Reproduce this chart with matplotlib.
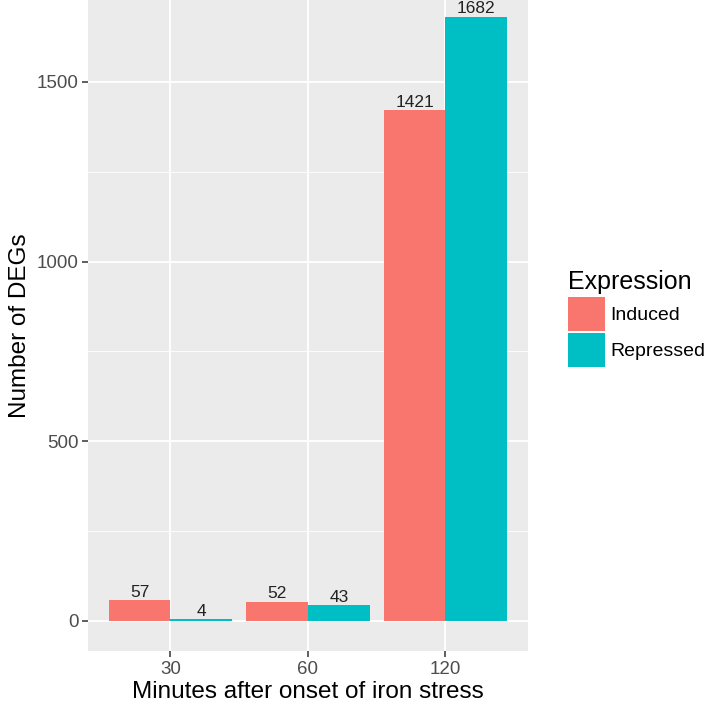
import matplotlib.pyplot as plt
import numpy as np
from matplotlib.patches import Patch

plt.rcParams['font.family'] = ['Liberation Sans', 'DejaVu Sans']

# data
minutes = ['30', '60', '120']
groups = ['Induced', 'Repressed']
induced = [57, 52, 1421]
repressed = [4, 43, 1682]
colors = ['#F8766D', '#00BFC4']

W, H = 707, 709
fig = plt.figure(figsize=(W / 100, H / 100), dpi=100)
ax = fig.add_axes([88 / W, (H - 651) / H, 440 / W, 651 / H])
ax.set_facecolor('#EBEBEB')

x = np.arange(len(minutes))
bw = 0.45
for vals, off, c in [(induced, -bw / 2, colors[0]), (repressed, bw / 2, colors[1])]:
    ax.bar(x + off, vals, width=bw, color=c, zorder=3)
    for xi, v in zip(x + off, vals):
        ax.annotate(str(v), (xi, v), xytext=(0, 0.5), textcoords='offset points',
                    ha='center', va='bottom', fontsize=12.5, color='#222222', zorder=4)

ax.set_xlim(-0.6, len(minutes) - 0.4)
ax.set_ylim(-84, 1728)
ax.set_xticks(x)
ax.set_xticklabels(minutes)
ax.set_yticks([0, 500, 1000, 1500])
ax.set_yticks([250, 750, 1250], minor=True)

ax.grid(which='major', color='white', linewidth=1.3, zorder=0)
ax.grid(which='minor', axis='y', color='white', linewidth=0.6, zorder=0)
ax.set_axisbelow(True)
for s in ax.spines.values():
    s.set_visible(False)
ax.tick_params(which='major', length=4, width=1.1, color='#333333',
               labelsize=13.5, labelcolor='#4D4D4D', pad=3)
ax.tick_params(which='minor', length=0)

ax.set_xlabel('Minutes after onset of iron stress', fontsize=17.5, color='black', labelpad=2)
ax.set_ylabel('Number of DEGs', fontsize=17.5, color='black', labelpad=4)

handles = [Patch(facecolor=c, edgecolor='none') for c in colors]
leg = fig.legend(handles, groups, title='Expression', loc='upper left',
                 bbox_to_anchor=(560 / W, 1 - 262 / H), frameon=False,
                 fontsize=14, title_fontsize=18, handlelength=1.9,
                 handleheight=2.3, labelspacing=0.15, handletextpad=0.3,
                 borderaxespad=0)
leg._legend_box.align = 'left'

fig.savefig('out.png', dpi=100)
